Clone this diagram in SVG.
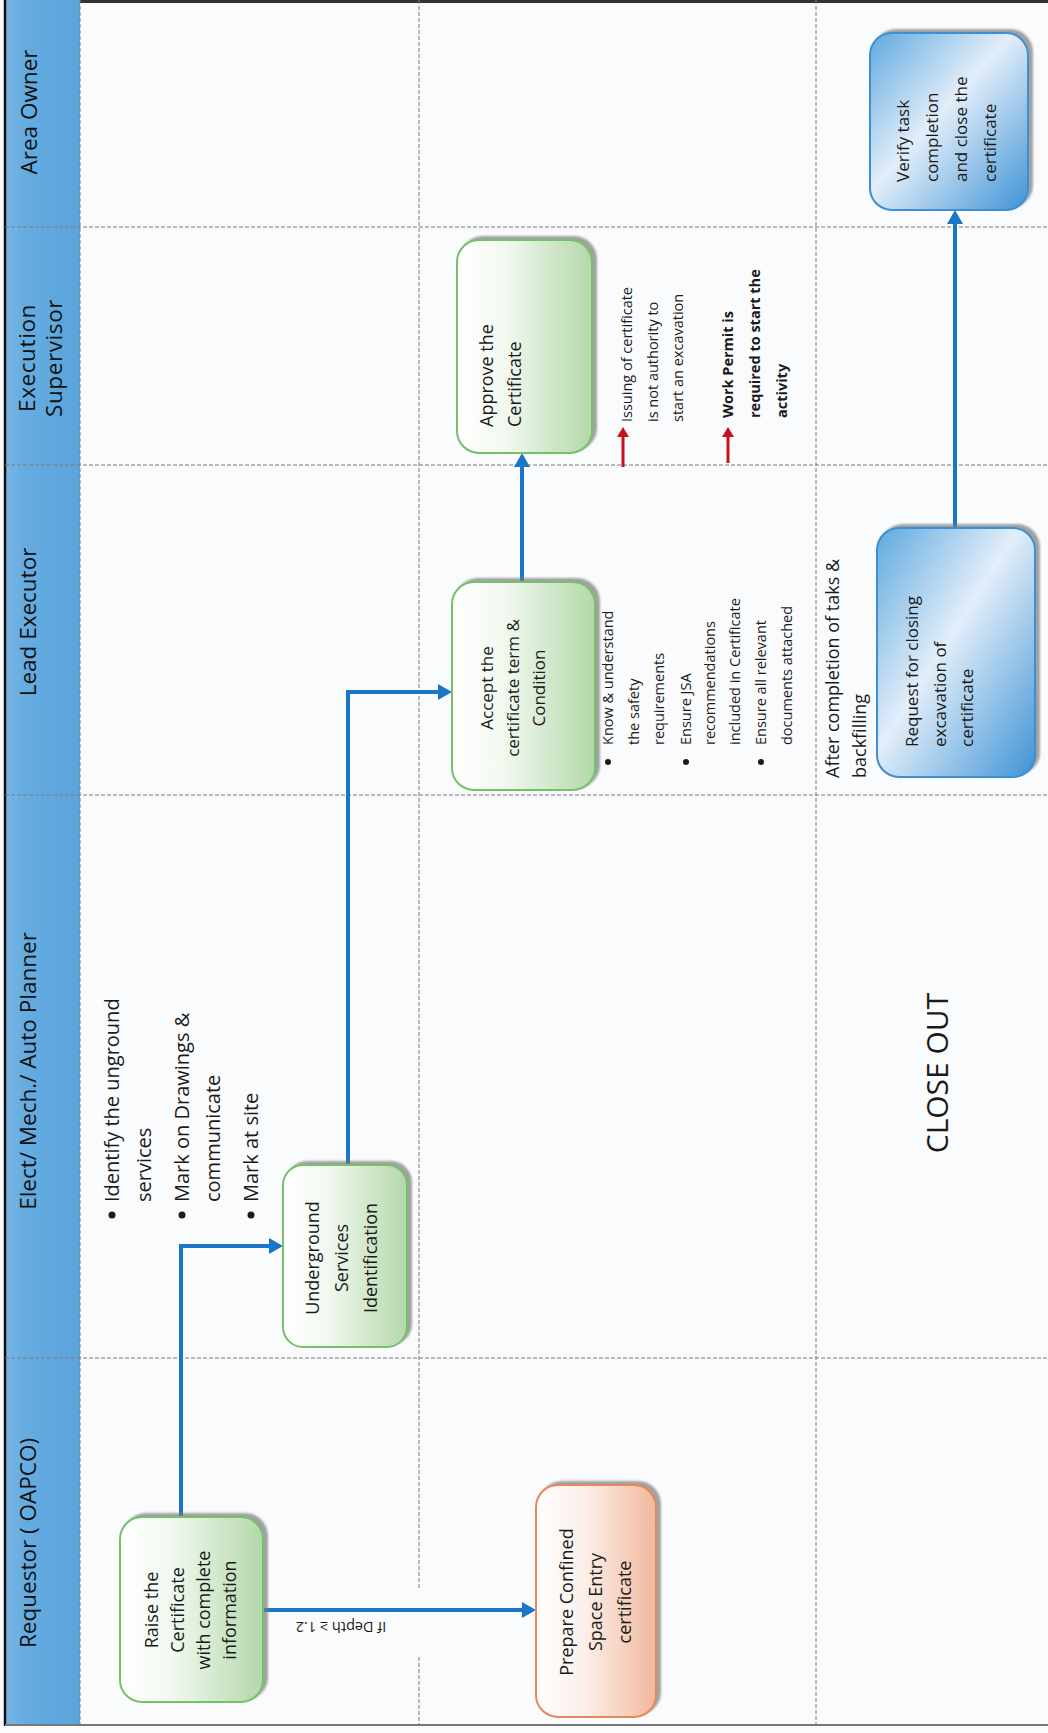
<svg xmlns="http://www.w3.org/2000/svg" width="1048" height="1733" viewBox="0 0 1048 1733">
<style>
text { font-family: "Open Sans", "Liberation Sans", sans-serif; fill: #1a1a1a; }
.hdr { font-size: 22.5px; fill: #111; }
.nt { font-size: 18px; }
.nt17 { font-size: 17px; }
.bl { font-size: 20px; }
.sm { font-size: 14.5px; }
.smb { font-size: 14.5px; font-weight: bold; }
.lane { stroke: #7d7d7d; stroke-width: 1; stroke-dasharray: 4 2; fill: none; }
.conn { stroke: #1b76c8; stroke-width: 4; fill: none; }
.red { stroke: #c8121b; stroke-width: 3; fill: none; }
.gnode { fill: url(#gGreen); stroke: #74c069; stroke-width: 2; filter: url(#shadow); }
.onode { fill: url(#gOrange); stroke: #e8875a; stroke-width: 2; filter: url(#shadow); }
.bnode { fill: url(#gBlue); stroke: #3d8fd1; stroke-width: 2; filter: url(#shadow); }
</style>
<defs>
<linearGradient id="gGreen" x1="0" y1="0" x2="1" y2="0">
<stop offset="0" stop-color="#ffffff"/>
<stop offset="0.35" stop-color="#f3f9f1"/>
<stop offset="1" stop-color="#b3d8a9"/>
</linearGradient>
<linearGradient id="gOrange" x1="0" y1="0" x2="1" y2="0">
<stop offset="0" stop-color="#ffffff"/>
<stop offset="0.4" stop-color="#fbf0ea"/>
<stop offset="1" stop-color="#f1b89c"/>
</linearGradient>
<linearGradient id="gBlue" x1="0" y1="0" x2="1" y2="1">
<stop offset="0" stop-color="#5ea9e0"/>
<stop offset="0.45" stop-color="#e3eef9"/>
<stop offset="1" stop-color="#3e93d6"/>
</linearGradient>
<linearGradient id="gHdr" x1="0" y1="0" x2="1" y2="0">
<stop offset="0" stop-color="#78b6e5"/>
<stop offset="0.3" stop-color="#64abe0"/>
<stop offset="1" stop-color="#5aa4dc"/>
</linearGradient>
<filter id="shadow" x="-10%" y="-10%" width="120%" height="120%">
<feDropShadow dx="4" dy="-3" stdDeviation="1.2" flood-color="#7a7a7a" flood-opacity="0.7"/>
</filter>
<marker id="ah" markerUnits="userSpaceOnUse" markerWidth="16" markerHeight="16" refX="0" refY="8" orient="auto">
<path d="M0,0 L14,8 L0,16 z" fill="#1b76c8"/>
</marker>
<marker id="ahr" markerUnits="userSpaceOnUse" markerWidth="12" markerHeight="12" refX="0" refY="6" orient="auto">
<path d="M0,0 L10,6 L0,12 z" fill="#c8121b"/>
</marker>
</defs>

<rect x="0" y="0" width="1048" height="1733" fill="#fafbfd"/>

<g id="lanes">
<rect x="5" y="0" width="75" height="1724" fill="url(#gHdr)"/>
<line x1="5" y1="0" x2="5" y2="1726" stroke="#111" stroke-width="2.5"/>
<line x1="80" y1="1.5" x2="1048" y2="1.5" stroke="#333" stroke-width="3"/>
<line x1="5" y1="1725" x2="1048" y2="1725" stroke="#777" stroke-width="2"/>
<line class="lane" x1="80" y1="0" x2="80" y2="1724"/>
<line class="lane" x1="5" y1="227" x2="1048" y2="227"/>
<line class="lane" x1="5" y1="465" x2="1048" y2="465"/>
<line class="lane" x1="5" y1="795" x2="1048" y2="795"/>
<line class="lane" x1="5" y1="1358" x2="1048" y2="1358"/>
<line class="lane" x1="419" y1="0" x2="419" y2="1590"/>
<line class="lane" x1="419" y1="1657" x2="419" y2="1724"/>
<line class="lane" x1="816" y1="0" x2="816" y2="1724"/>
<text class="hdr" transform="translate(0,112) rotate(-90)" text-anchor="middle"><tspan x="0" y="37">Area Owner</tspan></text>
<text class="hdr" transform="translate(0,358) rotate(-90)" text-anchor="middle" font-size="25" letter-spacing="0.6"><tspan x="0" y="35">Execution</tspan><tspan x="0" y="62">Supervisor</tspan></text>
<text class="hdr" transform="translate(0,622) rotate(-90)" text-anchor="middle"><tspan x="0" y="36">Lead Executor</tspan></text>
<text class="hdr" transform="translate(0,1071) rotate(-90)" text-anchor="middle"><tspan x="0" y="36">Elect/ Mech./ Auto Planner</tspan></text>
<text class="hdr" transform="translate(0,1543) rotate(-90)" text-anchor="middle"><tspan x="0" y="36">Requestor ( OAPCO)</tspan></text>
</g>

<g id="connectors">
<path class="conn" d="M181,1517 V1246 H269" marker-end="url(#ah)"/>
<path class="conn" d="M348,1165 V692 H438" marker-end="url(#ah)"/>
<path class="conn" d="M522,582 V467" marker-end="url(#ah)"/>
<path class="conn" d="M263,1610 H522" marker-end="url(#ah)"/>
<path class="conn" d="M955,528 V224" marker-end="url(#ah)"/>
<text class="sm" transform="translate(341,1622) rotate(180)" text-anchor="middle" font-size="14">If Depth ≥ 1.2</text>
</g>

<g id="node-raise">
<rect class="gnode" x="120" y="1517" width="143" height="185" rx="22"/>
<text class="nt" transform="translate(0,1610) rotate(-90)" text-anchor="middle"><tspan x="0" y="158">Raise the</tspan><tspan x="0" y="184">Certificate</tspan><tspan x="0" y="210">with complete</tspan><tspan x="0" y="236">information</tspan></text>
</g>

<g id="node-prepare">
<rect class="onode" x="536" y="1485" width="120" height="232" rx="22"/>
<text class="nt" transform="translate(0,1602) rotate(-90)" text-anchor="middle"><tspan x="0" y="573">Prepare Confined</tspan><tspan x="0" y="602">Space Entry</tspan><tspan x="0" y="631">certificate</tspan></text>
</g>

<g id="node-underground">
<rect class="gnode" x="283" y="1165" width="124" height="182" rx="20"/>
<text class="nt" transform="translate(0,1258) rotate(-90)" text-anchor="middle"><tspan x="0" y="319">Underground</tspan><tspan x="0" y="348">Services</tspan><tspan x="0" y="377">Identification</tspan></text>
</g>

<g id="note-elect">
<circle cx="112" cy="1215" r="3.5" fill="#1a1a1a"/>
<circle cx="182" cy="1215" r="3.5" fill="#1a1a1a"/>
<circle cx="251" cy="1215" r="3.5" fill="#1a1a1a"/>
<text class="bl" transform="translate(0,1202) rotate(-90)"><tspan x="0" y="119">Identify the unground</tspan><tspan x="0" y="151">services</tspan><tspan x="0" y="189">Mark on Drawings &amp;</tspan><tspan x="0" y="220">communicate</tspan><tspan x="0" y="258">Mark at site</tspan></text>
</g>

<g id="node-accept">
<rect class="gnode" x="452" y="582" width="143" height="208" rx="22"/>
<text class="nt17" transform="translate(0,688) rotate(-90)" text-anchor="middle"><tspan x="0" y="493">Accept the</tspan><tspan x="0" y="519">certificate term &amp;</tspan><tspan x="0" y="545">Condition</tspan></text>
</g>

<g id="note-accept">
<circle cx="608" cy="762" r="3" fill="#1a1a1a"/>
<circle cx="686" cy="762" r="3" fill="#1a1a1a"/>
<circle cx="761" cy="762" r="3" fill="#1a1a1a"/>
<text class="sm" transform="translate(0,745) rotate(-90)"><tspan x="0" y="613">Know &amp; understand</tspan><tspan x="0" y="639">the safety</tspan><tspan x="0" y="664">requirements</tspan><tspan x="0" y="691">Ensure JSA</tspan><tspan x="0" y="715">recommendations</tspan><tspan x="0" y="740">included in Certificate</tspan><tspan x="0" y="766">Ensure all relevant</tspan><tspan x="0" y="792">documents attached</tspan></text>
</g>

<g id="node-approve">
<rect class="gnode" x="457" y="240" width="135" height="213" rx="22"/>
<text class="nt" transform="translate(0,427) rotate(-90)"><tspan x="0" y="493">Approve the</tspan><tspan x="0" y="521">Certificate</tspan></text>
</g>

<g id="note-approve">
<path class="red" d="M623,467 V437" marker-end="url(#ahr)"/>
<path class="red" d="M728,463 V437" marker-end="url(#ahr)"/>
<text class="sm" font-size="15" transform="translate(0,422) rotate(-90)"><tspan x="0" y="632">Issuing of certificate</tspan><tspan x="0" y="658">is not authority to</tspan><tspan x="0" y="683">start an excavation</tspan></text>
<text class="smb" transform="translate(0,418) rotate(-90)"><tspan x="0" y="733">Work Permit is</tspan><tspan x="0" y="760">required to start the</tspan><tspan x="0" y="787">activity</tspan></text>
</g>

<g id="note-close">
<text class="nt" transform="translate(0,778) rotate(-90)"><tspan x="0" y="839">After completion of taks &amp;</tspan><tspan x="0" y="866">backfilling</tspan></text>
</g>

<g id="node-request">
<rect class="bnode" x="877" y="528" width="158" height="249" rx="22"/>
<text class="nt17" transform="translate(0,747) rotate(-90)"><tspan x="0" y="918">Request for closing</tspan><tspan x="0" y="946">excavation of</tspan><tspan x="0" y="973">certificate</tspan></text>
</g>

<g id="node-verify">
<rect class="bnode" x="870" y="33" width="158" height="177" rx="22"/>
<text class="nt17" transform="translate(0,182) rotate(-90)"><tspan x="0" y="909">Verify task</tspan><tspan x="0" y="938">completion</tspan><tspan x="0" y="967">and close the</tspan><tspan x="0" y="996">certificate</tspan></text>
</g>

<g id="label-closeout">
<text transform="translate(0,1073) rotate(-90)" text-anchor="middle" font-size="30"><tspan x="0" y="948">CLOSE OUT</tspan></text>
</g>
</svg>
